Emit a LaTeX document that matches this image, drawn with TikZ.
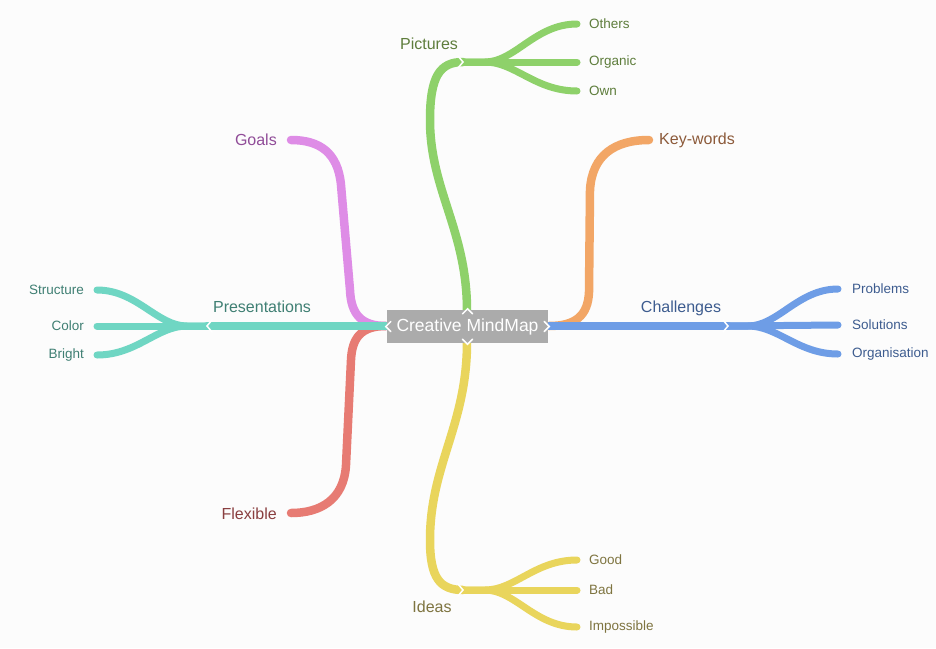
\documentclass[tikz,border=0pt]{standalone}
\usepackage{fontspec}
\setmainfont{Liberation Sans}
\definecolor{bgc}{HTML}{FCFCFC}
\definecolor{boxg}{HTML}{ABABAB}
\definecolor{cteal}{HTML}{6FD6C3}
\definecolor{cblue}{HTML}{6E9DE6}
\definecolor{cgreen}{HTML}{8ED16A}
\definecolor{cyel}{HTML}{E9D55C}
\definecolor{cpink}{HTML}{DE8CE6}
\definecolor{cred}{HTML}{E77B73}
\definecolor{corg}{HTML}{F2A666}
\definecolor{tteal}{HTML}{3F7F73}
\definecolor{tblue}{HTML}{3D5C8F}
\definecolor{tgreen}{HTML}{5E7D3C}
\definecolor{tyel}{HTML}{7E7440}
\definecolor{tpink}{HTML}{904C98}
\definecolor{tred}{HTML}{8A3F40}
\definecolor{torg}{HTML}{8C5A3A}
\tikzset{
  br/.style={line width=8.5pt, line cap=round},
  tw/.style={line width=7pt, line cap=round},
  big/.style={font=\fontsize{16}{18}\selectfont, inner sep=0pt},
  small/.style={font=\fontsize{13.5}{15}\selectfont, inner sep=0pt},
  chev/.style={draw=white, line width=1.5pt, line cap=round, line join=miter},
}
\begin{document}
\begin{tikzpicture}[x=1pt,y=-1pt]
\fill[bgc] (0,0) rectangle (936,648);
\useasboundingbox (0,0) rectangle (936,648);

% anchor points
\coordinate (cL) at (386,326);
\coordinate (cR) at (549,326);
\coordinate (cT) at (467,311);
\coordinate (cB) at (467,342);
\coordinate (jP) at (207,326);
\coordinate (jC) at (728,326);
\coordinate (jPi) at (463,62);
\coordinate (jI) at (463,590);
\coordinate (eS) at (97,290);
\coordinate (eCo) at (97,326);
\coordinate (eBr) at (97,355);
\coordinate (eG) at (291,140);
\coordinate (eF) at (291,513);
\coordinate (eK) at (649,140);
\coordinate (ePr) at (838,289);
\coordinate (eSo) at (838,325);
\coordinate (eOr) at (838,354);
\coordinate (eOt) at (577,24);
\coordinate (eOg) at (577,62);
\coordinate (eOw) at (577,91);
\coordinate (eGo) at (577,560);
\coordinate (eBa) at (577,590);
\coordinate (eIm) at (577,627);

% Goals (pink)
\draw[br,cpink] (cL) .. controls (362,326) and (351,315) .. (350,290)
  -- (341,185) .. controls (338,153) and (320,140) .. (eG);
% Flexible (red)
\draw[br,cred] (cL) .. controls (362,326) and (352,337) .. (351,360)
  -- (346,465) .. controls (344,500) and (320,513) .. (eF);
% Key-words (orange)
\draw[br,corg] (cR) .. controls (575,326) and (588,316) .. (589,292)
  -- (590,190) .. controls (592,155) and (615,140) .. (eK);
% Presentations (teal)
\draw[br,cteal] (cL) -- (jP);
\draw[tw,cteal] (jP) -- (eCo);
\draw[tw,cteal] (jP) -- (187,326) .. controls (157,326) and (137,290) .. (eS);
\draw[tw,cteal] (jP) -- (187,326) .. controls (157,326) and (137,355) .. (eBr);
% Challenges (blue)
\draw[br,cblue] (cR) -- (jC);
\draw[tw,cblue] (jC) -- (eSo);
\draw[tw,cblue] (jC) -- (748,326) .. controls (778,326) and (798,289) .. (ePr);
\draw[tw,cblue] (jC) -- (748,326) .. controls (778,326) and (798,354) .. (eOr);
% Pictures (green)
\draw[br,cgreen] (cT) .. controls (467,230) and (430,190) .. (430,120)
  .. controls (430,76) and (440,62) .. (jPi);
\draw[tw,cgreen] (jPi) -- (eOg);
\draw[tw,cgreen] (jPi) -- (485,62) .. controls (515,62) and (535,24) .. (eOt);
\draw[tw,cgreen] (jPi) -- (485,62) .. controls (515,62) and (535,91) .. (eOw);
% Ideas (yellow)
\draw[br,cyel] (cB) .. controls (467,425) and (430,465) .. (430,540)
  .. controls (430,578) and (440,590) .. (jI);
\draw[tw,cyel] (jI) -- (eBa);
\draw[tw,cyel] (jI) -- (485,590) .. controls (515,590) and (535,560) .. (eGo);
\draw[tw,cyel] (jI) -- (485,590) .. controls (515,590) and (535,627) .. (eIm);

% junction chevrons
\draw[chev] ([shift={(5,-6)}]jP) -- (jP) -- ([shift={(5,6)}]jP);
\draw[chev] ([shift={(-5,-6)}]jC) -- (jC) -- ([shift={(-5,6)}]jC);
\draw[chev] ([shift={(-5,-6)}]jPi) -- (jPi) -- ([shift={(-5,6)}]jPi);
\draw[chev] ([shift={(-5,-6)}]jI) -- (jI) -- ([shift={(-5,6)}]jI);

% centre
\node[fill=boxg, minimum width=161pt, minimum height=33pt, inner sep=0pt,
      text=white, font=\fontsize{17.5}{20}\selectfont] (c) at (467.5,326.5) {Creative MindMap};
\draw[chev] ([shift={(4,-5)}]c.west) -- ([shift={(-1,0)}]c.west) -- ([shift={(4,5)}]c.west);
\draw[chev] ([shift={(-4,-5)}]c.east) -- ([shift={(1,0)}]c.east) -- ([shift={(-4,5)}]c.east);
\draw[chev] ([shift={(-5,4)}]c.north) -- ([shift={(0,-1)}]c.north) -- ([shift={(5,4)}]c.north);
\draw[chev] ([shift={(-5,-4)}]c.south) -- ([shift={(0,1)}]c.south) -- ([shift={(5,-4)}]c.south);

% main labels
\node[big, text=tteal] (tPres) at (262,307) {Presentations};
\node[big, text=tblue] (tChal) at (681,308) {Challenges};
\node[big, text=tgreen] (tPic) at (429,44) {Pictures};
\node[big, text=tyel] (tIde) at (432,607) {Ideas};
\node[big, text=tpink, anchor=east] (tGoa) at (277,140) {Goals};
\node[big, text=tred, anchor=east] (tFle) at (277,514) {Flexible};
\node[big, text=torg, anchor=west] (tKey) at (659,140) {Key-words};

% leaves
\node[small, text=tteal, anchor=east] (lS) at (84,290) {Structure};
\node[small, text=tteal, anchor=east] (lCo) at (84,326) {Color};
\node[small, text=tteal, anchor=east] (lBr) at (84,355) {Bright};
\node[small, text=tblue, anchor=west] (lPr) at (852,289) {Problems};
\node[small, text=tblue, anchor=west] (lSo) at (852,325) {Solutions};
\node[small, text=tblue, anchor=west] (lOr) at (852,354) {Organisation};
\node[small, text=tgreen, anchor=west] (lOt) at (589,24) {Others};
\node[small, text=tgreen, anchor=west] (lOg) at (589,62) {Organic};
\node[small, text=tgreen, anchor=west] (lOw) at (589,91) {Own};
\node[small, text=tyel, anchor=west] (lGo) at (589,560) {Good};
\node[small, text=tyel, anchor=west] (lBa) at (589,590) {Bad};
\node[small, text=tyel, anchor=west] (lIm) at (589,627) {Impossible};
\end{tikzpicture}
\end{document}
